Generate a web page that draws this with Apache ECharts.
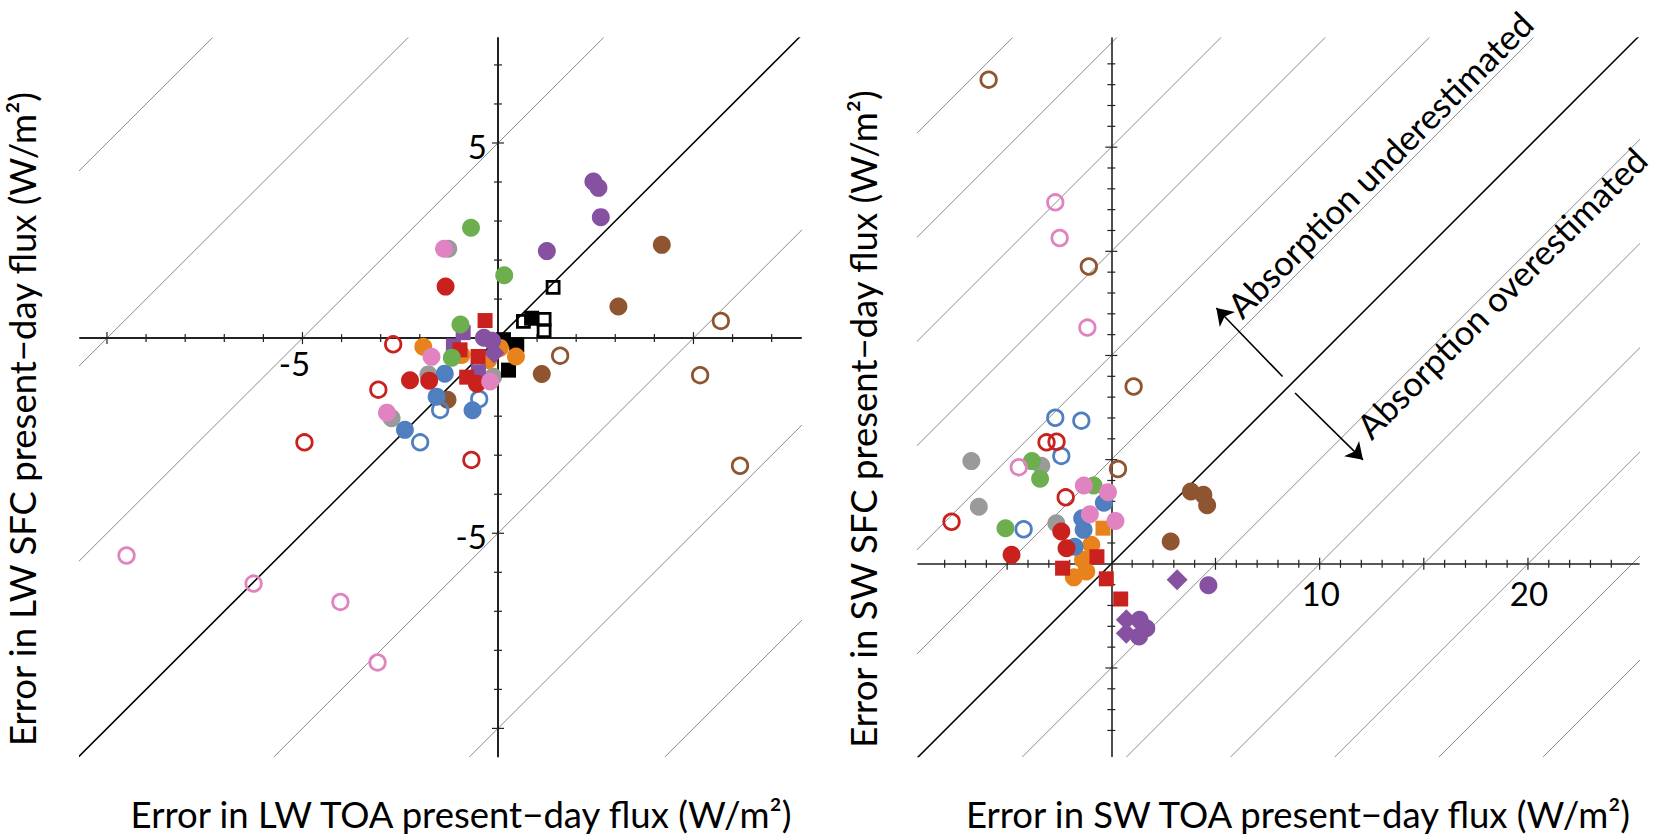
<!DOCTYPE html>
<html><head><meta charset="utf-8">
<script src="https://cdn.jsdelivr.net/npm/echarts@6/dist/echarts.min.js"></script>
<style>html,body{margin:0;padding:0;background:#fff}#c{width:1675px;height:837px}</style>
</head><body><div id="c"></div>
<script>
// ---------------- DATA ----------------
// Left panel: LW TOA error (x) vs LW SFC error (y)
const lwGray        = [[-1.27,2.29],[-1.78,-0.93],[-0.12,-0.99],[-2.72,-2.05]];
const lwBrownFilled = [[4.19,2.39],[3.08,0.81],[1.12,-0.92],[-1.29,-1.58]];
const lwBrownOpen   = [[5.70,0.44],[1.59,-0.45],[5.17,-0.95],[6.19,-3.27]];
const lwBlackFilled = [[0.86,0.51],[0.14,-0.04],[0.48,-0.17],[0.27,-0.82]];
const lwBlackOpen   = [[1.41,1.30],[0.65,0.43],[1.18,0.48],[1.18,0.19]];
const lwOrange      = [[-1.91,-0.22],[-0.93,-0.43],[-0.25,-0.56],[0.46,-0.47],[0.05,-0.25]];
const lwPurpleCirc  = [[2.44,4.01],[2.57,3.85],[2.63,3.10],[1.25,2.23],[-0.36,0.01],[-0.15,-0.07]];
const lwPurpleSq    = [[-0.89,0.14],[-1.14,-0.20],[-0.50,-0.86]];
const lwPurpleDia   = [[-0.10,-0.38]];
const lwBlueFilled  = [[-1.36,-0.91],[-1.57,-1.50],[-0.65,-1.85],[-2.38,-2.35]];
const lwBlueOpen    = [[-0.48,-1.56],[-1.48,-1.84],[-1.99,-2.67]];
const lwRedFilled   = [[-1.34,1.32],[-2.25,-1.08],[-1.76,-1.09],[-0.54,-1.17]];
const lwRedOpen     = [[-2.68,-0.16],[-3.06,-1.32],[-4.95,-2.67],[-0.68,-3.12]];
const lwRedSq       = [[-0.33,0.45],[-0.97,-0.30],[-0.51,-0.47],[-0.80,-1.00]];
const lwGreen       = [[-0.69,2.83],[0.16,1.61],[-0.96,0.35],[-1.18,-0.50]];
const lwPinkFilled  = [[-1.38,2.29],[-1.70,-0.48],[-0.20,-1.11],[-2.84,-1.91]];
const lwPinkOpen    = [[-9.50,-5.57],[-6.25,-6.29],[-4.03,-6.76],[-3.08,-8.31]];

// Right panel: SW TOA error (x) vs SW SFC error (y)
const swGray        = [[-6.72,4.93],[-3.36,4.71],[-6.36,2.74],[-2.64,1.95]];
const swBrownFilled = [[3.82,3.47],[4.42,3.31],[4.60,2.81],[2.85,1.07]];
const swBrownOpen   = [[-5.89,23.24],[-1.08,14.27],[1.07,8.51],[0.32,4.55]];
const swOrange      = [[-0.96,0.91],[-1.36,0.19],[-1.20,-0.37],[-1.80,-0.65]];
const swOrangeSq    = [[-0.40,1.71]];
const swPurpleCirc  = [[4.66,-1.03],[1.36,-2.69],[1.68,-3.09],[1.33,-3.49]];
const swPurpleDia   = [[3.16,-0.77],[0.72,-2.69],[0.72,-3.33]];
const swBlueFilled  = [[-0.36,2.93],[-1.40,2.19],[-1.33,1.63],[-1.76,0.82]];
const swBlueOpen    = [[-2.69,7.01],[-1.44,6.87],[-2.40,5.18],[-4.21,1.66]];
const swRedFilled   = [[-2.40,1.55],[-2.15,0.75],[-4.79,0.43]];
const swRedOpen     = [[-3.11,5.83],[-2.63,5.86],[-2.19,3.19],[-7.67,2.02]];
const swRedSq       = [[-2.34,-0.21],[-0.69,0.34],[-0.24,-0.72],[0.45,-1.69]];
const swGreen       = [[-3.81,4.93],[-3.42,4.08],[-0.85,3.76],[-5.08,1.71]];
const swPinkFilled  = [[-1.32,3.76],[-0.16,3.44],[-1.03,2.38],[0.20,2.06]];
const swPinkOpen    = [[-2.69,17.35],[-2.48,15.64],[-1.15,11.34],[-4.44,4.64]];

// Axis ranges, ticks and tick labels
const leftRange  = {xmin:-10.69, xmax:7.75, ymin:-10.72, ymax:7.69};
const rightRange = {xmin:-9.28, xmax:25.33, ymin:-9.25, ymax:25.24};
const leftXTicks  = [-10,-9,-8,-7,-6,-5,-4,-3,-2,-1,1,2,3,4,5,6,7];
const leftYTicks  = [-10,-9,-8,-7,-6,-5,-4,-3,-2,-1,1,2,3,4,5,6,7];
const rightXTicks = [-8,-7,-6,-5,-4,-3,-2,-1,1,2,3,4,5,6,7,8,9,10,11,12,13,14,15,16,17,18,19,20,21,22,23,24];
const rightYTicks = [-8,-7,-6,-5,-4,-3,-2,-1,1,2,3,4,5,6,7,8,9,10,11,12,13,14,15,16,17,18,19,20,21,22,23,24];
const leftXLabels  = [-5];
const leftYLabels  = [5,-5];
const rightXLabels = [10,20];
// Offsets c of the reference lines y = x + c (c = 0 is the 1:1 line)
const leftOffsets  = [-15,-10,-5,5,10,15];
const rightOffsets = [-30,-25,-20,-15,-10,-5,5,10,15,20,25,30];
// Annotations (right panel)
const annotationText = ['Absorption underestimated','Absorption overestimated'];
const annotationPos  = [[12.88,19.18],[18.72,13.02]];
const annotationArrows = [[[8.22,8.99],[5.04,12.28]],[[8.82,8.20],[12.08,4.99]]];

// ---------------- STYLE ----------------
const C = {red:'#C9211E', blue:'#4F7FBF', green:'#6DAE4F', purple:'#8551A0', orange:'#E8821C',
           pink:'#E083C0', gray:'#9A9A9A', brown:'#8F5430', black:'#000000'};
const FONT = 'Lato, "Open Sans", sans-serif';

function pts(grid, data, shape, color, open) {
  let size = 18;
  if (shape === 'rect') size = open ? 12 : 15;
  else if (shape === 'diamond') size = 21;
  else if (open) size = 15.5;
  return {
    type:'scatter', xAxisIndex:grid, yAxisIndex:grid, data, symbol:shape, symbolSize:size,
    silent:true, z:3, animation:false,
    itemStyle: open ? {color:'rgba(0,0,0,0)', borderColor:color, borderWidth:2.8, opacity:1}
                    : {color:color, opacity:1, borderWidth:0}
  };
}
function refLines(grid, rg, offsets) {
  return offsets.concat([0]).map(c => ({
    type:'line', xAxisIndex:grid, yAxisIndex:grid, symbol:'none', silent:true, animation:false,
    clip:true, z: c === 0 ? 1.5 : 1,
    lineStyle:{color: c === 0 ? '#000' : '#8a8a8a', width: c === 0 ? 1.5 : 1},
    data:[[rg.xmin - 2, rg.xmin - 2 + c],[rg.xmax + 2, rg.xmax + 2 + c]]
  }));
}
function ticks(grid, vals, dir) {
  return {
    type:'custom', xAxisIndex:grid, yAxisIndex:grid, silent:true, z:2.5, animation:false, clip:false,
    data: vals.map(v => dir === 'x' ? [v,0] : [0,v]),
    renderItem: (params, api) => {
      const v = dir === 'x' ? api.value(0) : api.value(1);
      const p = api.coord([api.value(0), api.value(1)]);
      const len = (v % 5 === 0) ? 6 : 4;
      const shape = dir === 'x' ? {x1:p[0], y1:p[1]-len, x2:p[0], y2:p[1]+len}
                                : {x1:p[0]-len, y1:p[1], x2:p[0]+len, y2:p[1]};
      return {type:'line', shape, style:{stroke:'#222', lineWidth:1.2}};
    }
  };
}
function tickLabels(grid, vals, dir, dx, dy, align) {
  return {
    type:'custom', xAxisIndex:grid, yAxisIndex:grid, silent:true, z:4, animation:false, clip:false,
    data: vals.map(v => dir === 'x' ? [v,0] : [0,v]),
    renderItem: (params, api) => {
      const v = dir === 'x' ? api.value(0) : api.value(1);
      const p = api.coord([api.value(0), api.value(1)]);
      return {type:'text', x:p[0]+dx, y:p[1]+dy,
        style:{text:String(v), fontSize:33, fontFamily:FONT, fill:'#000', align:align, verticalAlign:'middle'}};
    }
  };
}
function axis(gridIndex, min, max, lw) {
  return {type:'value', gridIndex, min, max, z:2,
    axisLine:{show:true, onZero:true, lineStyle:{color:'#222', width:lw}},
    axisTick:{show:false}, axisLabel:{show:false}, splitLine:{show:false}};
}

const L = 0, R = 1;
const series = [].concat(
  refLines(L, leftRange, leftOffsets),
  refLines(R, rightRange, rightOffsets),
  [
    ticks(L, leftXTicks, 'x'), ticks(L, leftYTicks, 'y'),
    ticks(R, rightXTicks, 'x'), ticks(R, rightYTicks, 'y'),
    tickLabels(L, leftXLabels, 'x', -8, 25, 'center'),
    tickLabels(L, leftYLabels, 'y', -11, 3, 'right'),
    tickLabels(R, rightXLabels, 'x', 1, 29, 'center'),
    // left panel points
    pts(L, lwGray, 'circle', C.gray, false),
    pts(L, lwBrownFilled, 'circle', C.brown, false),
    pts(L, lwBrownOpen, 'circle', C.brown, true),
    pts(L, lwBlackFilled, 'rect', C.black, false),
    pts(L, lwBlackOpen, 'rect', C.black, true),
    pts(L, lwOrange, 'circle', C.orange, false),
    pts(L, lwPurpleCirc, 'circle', C.purple, false),
    pts(L, lwPurpleSq, 'rect', C.purple, false),
    pts(L, lwPurpleDia, 'diamond', C.purple, false),
    pts(L, lwBlueFilled, 'circle', C.blue, false),
    pts(L, lwBlueOpen, 'circle', C.blue, true),
    pts(L, lwRedFilled, 'circle', C.red, false),
    pts(L, lwRedOpen, 'circle', C.red, true),
    pts(L, lwRedSq, 'rect', C.red, false),
    pts(L, lwGreen, 'circle', C.green, false),
    pts(L, lwPinkFilled, 'circle', C.pink, false),
    pts(L, lwPinkOpen, 'circle', C.pink, true),
    // right panel points
    pts(R, swGray, 'circle', C.gray, false),
    pts(R, swBrownFilled, 'circle', C.brown, false),
    pts(R, swBrownOpen, 'circle', C.brown, true),
    pts(R, swOrange, 'circle', C.orange, false),
    pts(R, swOrangeSq, 'rect', C.orange, false),
    pts(R, swPurpleCirc, 'circle', C.purple, false),
    pts(R, swPurpleDia, 'diamond', C.purple, false),
    pts(R, swBlueFilled, 'circle', C.blue, false),
    pts(R, swBlueOpen, 'circle', C.blue, true),
    pts(R, swRedFilled, 'circle', C.red, false),
    pts(R, swRedOpen, 'circle', C.red, true),
    pts(R, swRedSq, 'rect', C.red, false),
    pts(R, swGreen, 'circle', C.green, false),
    pts(R, swPinkFilled, 'circle', C.pink, false),
    pts(R, swPinkOpen, 'circle', C.pink, true),
    // annotation arrows
    {type:'lines', coordinateSystem:'cartesian2d', xAxisIndex:R, yAxisIndex:R, silent:true, z:4,
     animation:false, symbol:['none','arrow'], symbolSize:16,
     lineStyle:{color:'#000', width:1.6, opacity:1, curveness:0},
     data: annotationArrows.map(a => ({coords:a}))},
    // annotation text
    {type:'custom', xAxisIndex:R, yAxisIndex:R, silent:true, z:4, animation:false, clip:false,
     data: annotationPos.map((p,i) => [p[0], p[1], i]),
     renderItem: (params, api) => {
       const p = api.coord([api.value(0), api.value(1)]);
       return {type:'text', x:p[0], y:p[1], rotation:Math.PI/4,
         style:{text:annotationText[api.value(2)], fontSize:34.5, fontFamily:FONT, fill:'#000',
                align:'center', verticalAlign:'middle'}};
     }}
  ]
);

const chart = echarts.init(document.getElementById('c'), null, {renderer:'svg'});
chart.setOption({
  animation:false,
  backgroundColor:'#fff',
  grid:[{left:80, top:38, width:721, height:718.5}, {left:918, top:38, width:721, height:718.5}],
  xAxis:[axis(0, leftRange.xmin, leftRange.xmax, 2), axis(1, rightRange.xmin, rightRange.xmax, 1.6)],
  yAxis:[axis(0, leftRange.ymin, leftRange.ymax, 2), axis(1, rightRange.ymin, rightRange.ymax, 1.6)],
  graphic:[
    {type:'text', x:22, y:419, rotation:Math.PI/2, style:{text:'Error in LW SFC present\u2212day flux (W/m\u00B2)', fontSize:36.5, fontFamily:FONT, fill:'#000', align:'center', verticalAlign:'middle'}},
    {type:'text', x:863, y:419, rotation:Math.PI/2, style:{text:'Error in SW SFC present\u2212day flux (W/m\u00B2)', fontSize:36.5, fontFamily:FONT, fill:'#000', align:'center', verticalAlign:'middle'}},
    {type:'text', x:461, y:814, style:{text:'Error in LW TOA present\u2212day flux (W/m\u00B2)', fontSize:36.5, fontFamily:FONT, fill:'#000', align:'center', verticalAlign:'middle'}},
    {type:'text', x:1298, y:814, style:{text:'Error in SW TOA present\u2212day flux (W/m\u00B2)', fontSize:36.5, fontFamily:FONT, fill:'#000', align:'center', verticalAlign:'middle'}}
  ],
  series
});
</script></body></html>
